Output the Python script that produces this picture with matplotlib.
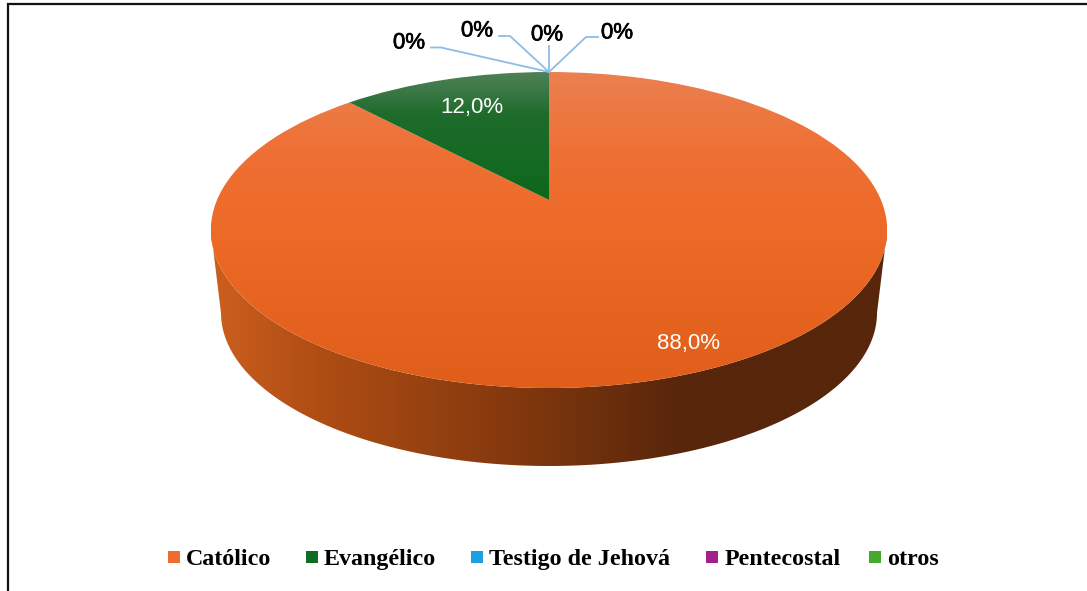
import numpy as np
import matplotlib
matplotlib.use("Agg")
import matplotlib.pyplot as plt
import matplotlib.patheffects as pe
from matplotlib.colors import LinearSegmentedColormap
from matplotlib.patches import Polygon, Rectangle
from matplotlib.transforms import Transform

# chart data
categories = ["Católico", "Evangélico", "Testigo de Jehová", "Pentecostal", "otros"]
values = [88.0, 12.0, 0.0, 0.0, 0.0]
legend_colors = ["#EE6E30", "#116B22", "#1E9FE0", "#A0218C", "#46A82C"]
big_labels = ["88,0%", "12,0%"]
zero_labels = ["0%", "0%", "0%", "0%"]

W, H = 1087, 591
CX, CY = 549, 200     # pixel where the pie centre lands
TILT = 0.19           # perspective strength


class Tilted(Transform):
	"""unit disc -> picture pixels, with perspective"""
	input_dims = 2
	output_dims = 2
	is_separable = False
	has_inverse = False

	def __init__(self, scale=1.0, dy=0.0):
		super().__init__()
		self.scale = scale
		self.dy = dy

	def transform_non_affine(self, pts):
		pts = np.asarray(pts, dtype=float)
		w = 1 + TILT * pts[:, 1]
		x = CX + self.scale * 332 * pts[:, 0] / w
		y = CY + self.dy + self.scale * ((200 - 114.3 * pts[:, 1]) / w - 200)
		return np.column_stack([x, y])


fig = plt.figure(figsize=(W / 100, H / 100), dpi=100)
ax = fig.add_axes([0, 0, 1, 1])

# pie gives the slices, Tilted lays them flat
wedges, _ = ax.pie(values, startangle=90, counterclock=False)
ax.set_aspect("auto")
ax.axis("off")

top = Tilted()
bottom = Tilted(scale=0.97, dy=83.6)

# side wall, front half of the rim
t = np.linspace(np.pi + np.arcsin(TILT), 2 * np.pi - np.arcsin(TILT), 300)
rim = np.column_stack([np.cos(t), np.sin(t)])
wall = np.vstack([top.transform_non_affine(rim), bottom.transform_non_affine(rim)[::-1]])
ax.set_xlim(0, W)
ax.set_ylim(H, 0)
wall_patch = Polygon(wall, closed=True, transform=ax.transData, fc="none", ec="none")
ax.add_patch(wall_patch)

wall_cmap = LinearSegmentedColormap.from_list("wall", [
	(0.0, "#CC5F1F"), (0.15, "#B04E14"), (0.45, "#83380E"), (0.7, "#57260B"), (1.0, "#57260B")])
im = ax.imshow(np.linspace(0, 1, 512).reshape(1, -1), cmap=wall_cmap, aspect="auto",
	extent=(211, 887, H, 0), zorder=2)
im.set_clip_path(wall_patch)

# top surface, one vertical gradient per slice
top_stops = [
	[(0.0, "#EA8050"), (0.25, "#EF7035"), (0.55, "#EC6925"), (1.0, "#DF5E1A")],
	[(0.0, "#4F8055"), (0.12, "#3F7A4A"), (0.32, "#1F6C2C"), (1.0, "#0D681B")],
]
top_extent = [(211, 887, 388, 72), (211, 887, 200, 72)]
for wedge, stops, ext in zip(wedges[:2], top_stops, top_extent):
	wedge.set_transform(top + ax.transData)
	wedge.set_facecolor("none")
	wedge.set_edgecolor("none")
	cmap = LinearSegmentedColormap.from_list("top", stops)
	im = ax.imshow(np.linspace(0, 1, 256).reshape(-1, 1), cmap=cmap, aspect="auto",
		extent=ext, zorder=3)
	im.set_clip_path(wedge)
for wedge in wedges[2:]:
	wedge.set_visible(False)
ax.set_xlim(0, W)
ax.set_ylim(H, 0)

# data labels
ax.text(688, 343, big_labels[0], color="white", fontsize=16, family="Liberation Sans",
	ha="center", va="center", zorder=5)
ax.text(472, 107, big_labels[1], color="white", fontsize=16, family="Liberation Sans",
	ha="center", va="center", zorder=5)

# leader lines for the empty slices
leader_x = [[549, 441, 431], [549, 510, 499], [549, 549], [549, 586, 598]]
leader_y = [[72, 47.5, 47.5], [72, 36, 36], [72, 46], [72, 37, 37]]
zero_x = [409, 477, 547, 617]
zero_y = [43, 31, 35, 33]
for lx, ly, zx, zy, txt in zip(leader_x, leader_y, zero_x, zero_y, zero_labels):
	ax.plot(lx, ly, color="#8DBDE6", lw=1.3, zorder=4)
	ax.text(zx, zy, txt, color="black", fontsize=16, family="Liberation Sans",
		ha="center", va="center", zorder=5,
		path_effects=[pe.withStroke(linewidth=0.5, foreground="black")])

# legend
box_x = [168, 306, 471, 706, 869]
text_x = [186, 324, 489, 725, 887]
for name, col, bx, tx in zip(categories, legend_colors, box_x, text_x):
	ax.add_patch(Rectangle((bx, 551), 12, 12, fc=col, ec="none", zorder=5))
	ax.text(tx, 565, name, color="black", fontsize=17.3, family="Liberation Serif",
		weight="bold", ha="left", va="baseline", zorder=5)

# black frame of the pasted picture
ax.plot([8, 8, W], [H, 4, 4], color="#111111", lw=1.6, zorder=6, solid_joinstyle="miter")

fig.savefig("out.png", dpi=100)
